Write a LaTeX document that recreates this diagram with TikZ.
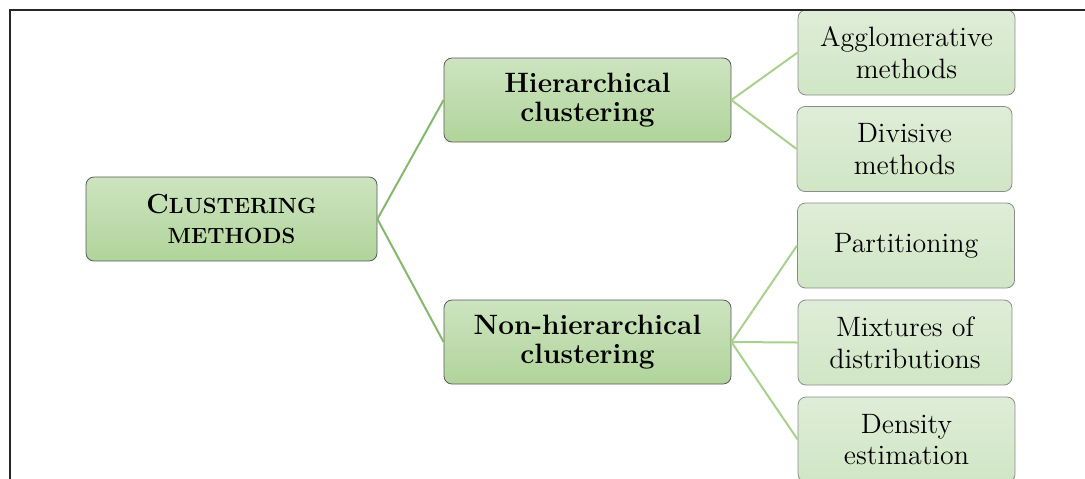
\documentclass[tikz,border=0pt]{standalone}
\usepackage{xcolor}
\definecolor{midgreen}{HTML}{84B96C}
\definecolor{leafline}{HTML}{A9D18E}
\definecolor{boxtop}{HTML}{CDE4C0}
\definecolor{boxbot}{HTML}{B0D49A}
\definecolor{leaftop}{HTML}{DFEDD8}
\definecolor{leafbot}{HTML}{D0E6C5}

\begin{document}
\begin{tikzpicture}[x=0.5pt, y=-0.5pt,
  topbox/.style={draw=black!65, line width=0.4pt, rounded corners=4pt,
    top color=boxtop, bottom color=boxbot, align=center, inner sep=0pt,
    font=\bfseries\fontsize{14}{14.6}\selectfont},
  leafbox/.style={draw=black!45, line width=0.4pt, rounded corners=4pt,
    top color=leaftop, bottom color=leafbot, align=center, inner sep=0pt,
    minimum width=108.5pt, minimum height=42.5pt,
    font=\fontsize{14}{15.8}\selectfont},
  rootlink/.style={midgreen, line width=1pt},
  leaflink/.style={leafline, line width=1pt}]
\clip (0,0) rectangle (1085,478);
\def\bigsc{\fontsize{13.8}{15}\selectfont}
\def\smallsc{\fontsize{11}{15}\selectfont}

% root and middle level
\node[topbox, minimum width=145.5pt, minimum height=42pt] (clust) at (231.5,219)
  {{\bigsc C}{\smallsc LUSTERING}\\{\smallsc METHODS}};
\node[topbox, minimum width=143.5pt, minimum height=42pt] (hier) at (587.5,100)
  {Hierarchical\\clustering};
\node[topbox, minimum width=143.5pt, minimum height=42pt] (nonhier) at (587.5,342)
  {Non-hierarchical\\clustering};

% leaves
\node[leafbox] (agglo) at (906.5,52.5) {Agglomerative\\methods};
\node[leafbox, minimum width=107.5pt] (divis) at (904.5,149) {Divisive\\methods};
\node[leafbox] (partit) at (906,245.5) {Partitioning};
\node[leafbox, minimum width=107pt] (mixt) at (905,342.5) {Mixtures of\\distributions};
\node[leafbox] (dens) at (906.5,439.5) {Density\\estimation};

% connectors
\draw[rootlink] (clust.east) -- (hier.west);
\draw[rootlink] (clust.east) -- (nonhier.west);
\foreach \leaf in {agglo,divis}
  \draw[leaflink] (hier.east) -- (\leaf.west);
\foreach \leaf in {partit,mixt,dens}
  \draw[leaflink] (nonhier.east) -- (\leaf.west);

% frame
\draw[black!85, line width=1pt] (10,490) -- (10,10) -- (1095,10);
\end{tikzpicture}
\end{document}
